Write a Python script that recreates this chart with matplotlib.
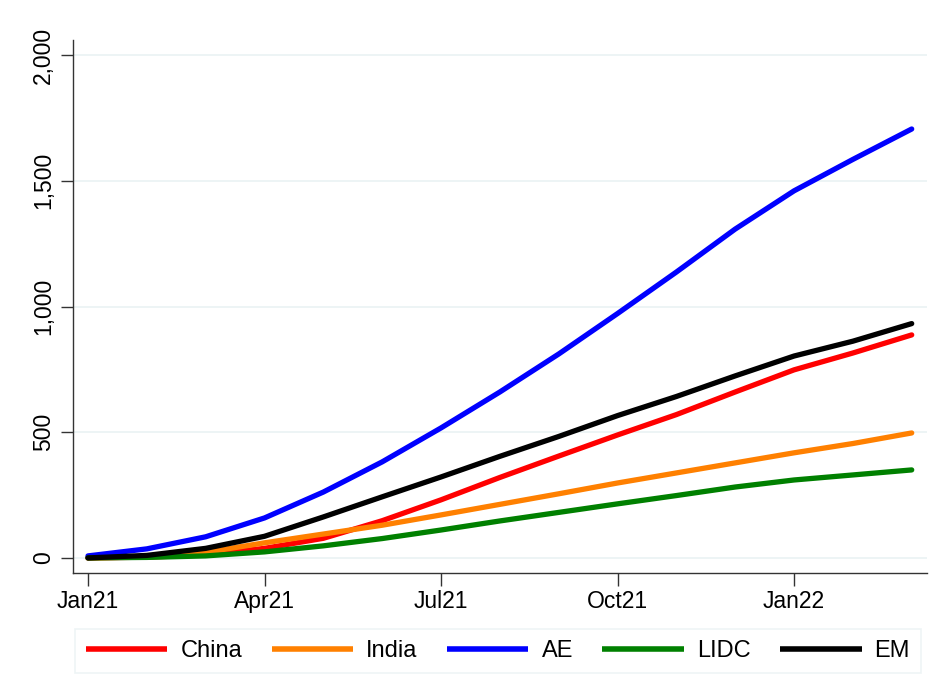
import matplotlib.pyplot as plt
from matplotlib.ticker import FuncFormatter

plt.rcParams['font.family'] = ['Liberation Sans', 'DejaVu Sans']

# Monthly index values, Jan21 .. Mar22
months = ['Jan21', 'Feb21', 'Mar21', 'Apr21', 'May21', 'Jun21', 'Jul21', 'Aug21',
          'Sep21', 'Oct21', 'Nov21', 'Dec21', 'Jan22', 'Feb22', 'Mar22']
china = [0, 3, 12, 38, 78, 148, 231, 320, 405, 489, 570, 660, 748, 815, 887]
india = [0, 4, 22, 60, 95, 130, 171, 213, 255, 298, 338, 378, 418, 455, 497]
ae = [8, 36, 84, 159, 262, 382, 517, 660, 811, 972, 1137, 1308, 1460, 1585, 1706]
lidc = [0, 2, 8, 24, 48, 77, 111, 147, 181, 215, 248, 282, 310, 330, 350]
em = [0, 10, 38, 86, 163, 243, 322, 404, 483, 566, 642, 724, 803, 862, 932]

series = [('China', china, '#ff0000'),
          ('India', india, '#ff8000'),
          ('AE', ae, '#0000ff'),
          ('LIDC', lidc, '#008000'),
          ('EM', em, '#000000')]

tick_pos = [0, 3, 6, 9, 12]
tick_lab = ['Jan21', 'Apr21', 'Jul21', 'Oct21', 'Jan22']

fig = plt.figure(figsize=(9.4, 6.96), dpi=100)
ax = fig.add_axes([73 / 940, 1 - 573 / 696, (927 - 73) / 940, (573 - 40) / 696])

x = list(range(len(months)))
for name, vals, col in series:
    ax.plot(x, vals, color=col, lw=3.8, label=name, solid_capstyle='round',
            solid_joinstyle='round')

ax.set_xlim(-0.255, 14.26)
ax.set_ylim(-60, 2060)
ax.set_yticks([0, 500, 1000, 1500, 2000])
ax.yaxis.set_major_formatter(FuncFormatter(lambda v, p: f'{int(v):,}'))
ax.set_xticks(tick_pos)
ax.set_xticklabels(tick_lab)
ax.grid(axis='y', color='#eaf2f3', lw=1.2)
ax.set_axisbelow(True)

for s in ['top', 'right']:
    ax.spines[s].set_visible(False)
for s in ['left', 'bottom']:
    ax.spines[s].set_color('#333333')
    ax.spines[s].set_linewidth(1.0)

ax.tick_params(axis='both', colors='#333333', labelcolor='black', labelsize=16.5,
               length=9, width=1.0)
ax.tick_params(axis='y', pad=4)
for lab in ax.get_yticklabels():
    lab.set_rotation(90)
    lab.set_va('center')

leg = fig.legend(loc='center', bbox_to_anchor=(498 / 940, 1 - 651 / 696), ncol=5,
                 fontsize=17, frameon=True, fancybox=False, handlelength=3.45,
                 columnspacing=1.25, handletextpad=0.55, borderpad=0.45)
leg.get_frame().set_edgecolor('#eaf2f3')
leg.get_frame().set_linewidth(1.2)
for h in leg.get_lines():
    h.set_linewidth(4.0)
    h.set_solid_capstyle('butt')

fig.savefig('out.png', dpi=100)
